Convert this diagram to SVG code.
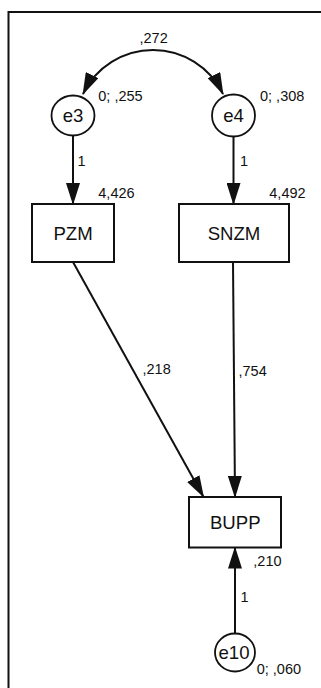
<svg xmlns="http://www.w3.org/2000/svg" width="321" height="688" viewBox="0 0 321 688">
<style>
.lbl{font-family:"Liberation Sans",Arial,sans-serif;font-size:18.6px;fill:#111;text-anchor:middle}
.num{font-family:"Liberation Sans",Arial,sans-serif;font-size:14.5px;fill:#111}
.box{fill:#fff;stroke:#111;stroke-width:2}
.circ{fill:#fff;stroke:#111;stroke-width:1.8}
.edge{fill:none;stroke:#111;stroke-width:2}
</style>
<defs>
<marker id="arr" markerUnits="userSpaceOnUse" markerWidth="22" markerHeight="14" viewBox="0 0 22 14" refX="21" refY="7" orient="auto-start-reverse">
<path d="M0,0 L22,7 L0,14 z" fill="#111"/>
</marker>
</defs>
<rect x="0" y="0" width="321" height="688" fill="#fff"/>
<path d="M8.5,700 V12 H330" fill="none" stroke="#111" stroke-width="2"/>
<g id="connectors">
<path class="edge" d="M223,94 A77.7,77.7 0 0 0 83,94" marker-start="url(#arr)" marker-end="url(#arr)"/>
<line class="edge" x1="73" y1="136" x2="73" y2="204" marker-end="url(#arr)"/>
<line class="edge" x1="233.5" y1="137" x2="233.5" y2="204" marker-end="url(#arr)"/>
<line class="edge" x1="73" y1="262" x2="203.5" y2="497" marker-end="url(#arr)"/>
<line class="edge" x1="233" y1="262" x2="235" y2="497" marker-end="url(#arr)"/>
<line class="edge" x1="235" y1="633" x2="235" y2="547.5" marker-end="url(#arr)"/>
<text class="num" x="139.5" y="42.5">,272</text>
<text class="num" x="77.5" y="166">1</text>
<text class="num" x="240" y="166">1</text>
<text class="num" x="142.5" y="374">,218</text>
<text class="num" x="238.5" y="376">,754</text>
<text class="num" x="240.5" y="601.5">1</text>
</g>
<g id="e3">
<ellipse class="circ" cx="73" cy="115.5" rx="21.5" ry="20"/>
<text class="lbl" x="73" y="121.5">e3</text>
<text class="num" x="98.3" y="101">0; ,255</text>
</g>
<g id="e4">
<ellipse class="circ" cx="233.5" cy="115.5" rx="21.5" ry="21"/>
<text class="lbl" x="233.5" y="121.5">e4</text>
<text class="num" x="260" y="101">0; ,308</text>
</g>
<g id="PZM">
<rect class="box" x="32" y="204" width="82" height="58"/>
<text class="lbl" x="73" y="239.5">PZM</text>
<text class="num" x="98.3" y="197.5">4,426</text>
</g>
<g id="SNZM">
<rect class="box" x="179" y="204" width="110" height="58"/>
<text class="lbl" x="234" y="239.5">SNZM</text>
<text class="num" x="269.3" y="197.5">4,492</text>
</g>
<g id="BUPP">
<rect class="box" x="189" y="497" width="92" height="50.5"/>
<text class="lbl" x="235.3" y="529.3">BUPP</text>
<text class="num" x="253.3" y="566">,210</text>
</g>
<g id="e10">
<ellipse class="circ" cx="235" cy="652.5" rx="20" ry="19"/>
<text class="lbl" x="234" y="659.3">e10</text>
<text class="num" x="256.7" y="674.3">0; ,060</text>
</g>
</svg>
